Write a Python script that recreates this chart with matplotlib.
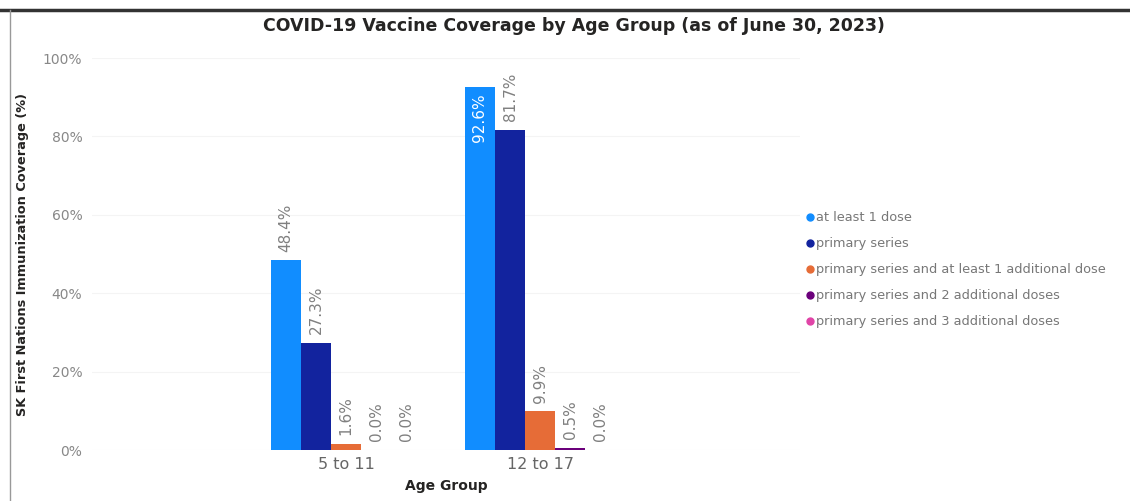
import matplotlib
matplotlib.use("Agg")
import matplotlib.pyplot as plt
from matplotlib.lines import Line2D
import numpy as np

categories = ["5 to 11", "12 to 17"]
series_names = [
    "at least 1 dose",
    "primary series",
    "primary series and at least 1 additional dose",
    "primary series and 2 additional doses",
    "primary series and 3 additional doses",
]
values = [
    [48.4, 92.6],
    [27.3, 81.7],
    [1.6, 9.9],
    [0.0, 0.5],
    [0.0, 0.0],
]
colors = ["#118DFF", "#12239E", "#E66C37", "#6B007B", "#E044A7"]
yticks = [0, 20, 40, 60, 80, 100]
ytick_labels = ["0%", "20%", "40%", "60%", "80%", "100%"]

plt.rcParams['font.family'] = ['DejaVu Sans']

fig = plt.figure(figsize=(11.30, 5.01), dpi=100)
ax = fig.add_axes([92/1130, 1 - 450/501, 708/1130, 392/501])

w = 0.155
x = np.arange(len(categories))
n = len(series_names)
for i, (name, vals, c) in enumerate(zip(series_names, values, colors)):
    pos = x + (i - (n - 1) / 2) * w
    ax.bar(pos, vals, width=w, color=c, label=name, zorder=2)
    for p, v in zip(pos, vals):
        lab = f"{v:.1f}%"
        if v > 88:
            ax.text(p, v - 1.5, lab, rotation=90, ha='center', va='top',
                    color='white', fontsize=11)
        else:
            ax.text(p, v + 2.2, lab, rotation=90, ha='center', va='bottom',
                    color='#808080', fontsize=11)

ax.set_xlim(-1.31, 2.34)
ax.set_ylim(0, 100)
ax.set_yticks(yticks)
ax.set_yticklabels(ytick_labels, color='#888888', fontsize=10)
ax.set_xticks(x + 0.0)
ax.set_xticklabels(categories, color='#666666', fontsize=11.5)
ax.tick_params(axis='both', length=0, pad=7)
ax.tick_params(axis='x', pad=5)
ax.grid(axis='y', color='#f4f4f4', linewidth=0.8, zorder=0)
for s in ax.spines.values():
    s.set_visible(False)

ax.set_xlabel("Age Group", fontsize=10, fontweight='bold', color='#252423', labelpad=5)
fig.text(23/1130, 1 - 255/501, "SK First Nations Immunization Coverage (%)", rotation=90,
         ha='center', va='center', fontsize=9.3, fontweight='bold', color='#252423')

handles = [Line2D([0], [0], marker='o', linestyle='none', markersize=5,
                  markerfacecolor=c, markeredgecolor=c) for c in colors]
leg = fig.legend(handles, series_names, loc='upper left',
                 bbox_to_anchor=(797/1130, 1 - 205/501), frameon=False,
                 fontsize=9.3, handletextpad=0.0, labelspacing=1.0,
                 borderpad=0, handlelength=1.0)
for t in leg.get_texts():
    t.set_color('#777777')

fig.text(574/1130, 1 - 26/501, "COVID-19 Vaccine Coverage by Age Group (as of June 30, 2023)",
         ha='center', va='center', fontsize=12.5, fontweight='bold', color='#252423')

# frame lines
fig.add_artist(Line2D([0, 1], [1 - 10/501, 1 - 10/501], color='#333333', linewidth=2.5))
fig.add_artist(Line2D([10/1130, 10/1130], [0, 1 - 10/501], color='#999999', linewidth=1))

fig.savefig("out.png", dpi=100)
